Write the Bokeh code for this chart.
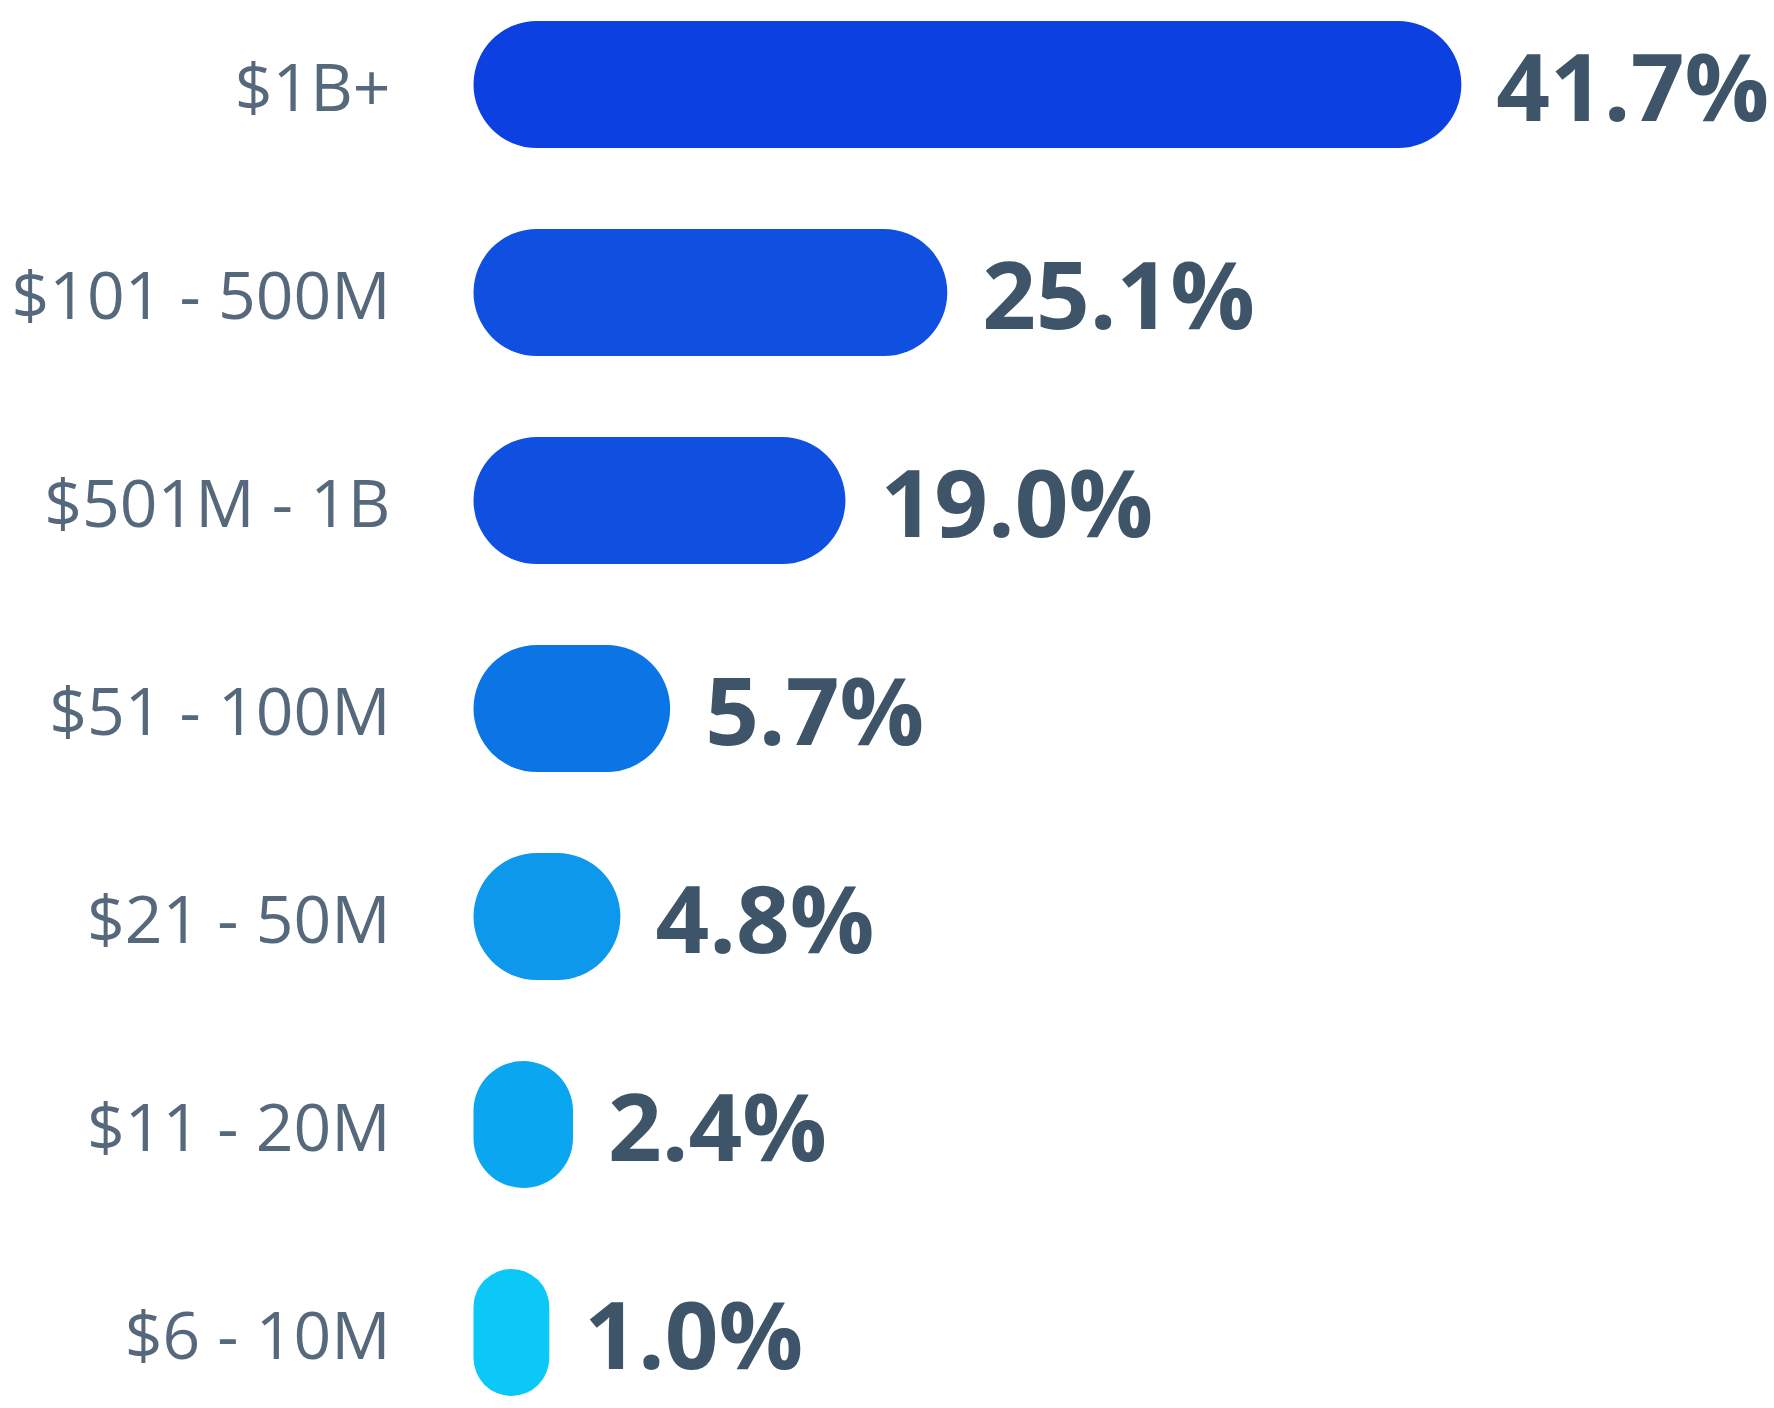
from bokeh.plotting import figure
from bokeh.models import ColumnDataSource, Range1d
from bokeh.core.properties import value
from bokeh.embed import file_html
from bokeh.resources import INLINE

# ---- data ----
categories = ["$1B+", "$101 - 500M", "$501M - 1B", "$51 - 100M",
              "$21 - 50M", "$11 - 20M", "$6 - 10M"]
share_pct = [41.7, 25.1, 19.0, 5.7, 4.8, 2.4, 1.0]          # printed values
bar_len_pct = [41.7, 20.0, 15.7, 8.3, 6.2, 4.2, 3.2]        # bar lengths as drawn
bar_colors = ["#0d40e0", "#1050e0", "#1050e1", "#0b75e6",
              "#0d98ec", "#0aa6f0", "#0bc8f7"]
value_labels = [f"{v:.1f}%" for v in share_pct]

# ---- layout ----
W, H = 1774, 1400
px_per_unit = 23.69
x0_px = 473
row_px = 208.0
first_row_px = 84.0

rows = list(range(len(categories)))
src = ColumnDataSource(dict(y=rows, cat=categories, share=share_pct,
                            bar=bar_len_pct, color=bar_colors, lab=value_labels))

x_start = -x0_px / px_per_unit
x_end = (W - x0_px) / px_per_unit
y_top = -first_row_px / row_px
y_bottom = (H - first_row_px) / row_px

p = figure(width=W, height=H, output_backend="svg", toolbar_location=None,
           x_range=Range1d(x_start, x_end), y_range=Range1d(y_bottom, y_top),
           min_border=0, outline_line_color=None, background_fill_color="white",
           border_fill_color="white")
p.axis.visible = False
p.grid.visible = False

p.hbar(y="y", left=0, right="bar", height=127 / row_px, source=src,
       fill_color="color", line_color=None, border_radius=64)

p.text(x=0, y="y", text="cat", source=src, x_offset=-83, y_offset=0,
       text_align="right", text_baseline="alphabetic",
       text_font=value("Open Sans"), text_font_size="66px", text_color="#56697c")

p.text(x="bar", y="y", text="lab", source=src, x_offset=35, y_offset=0,
       text_align="left", text_baseline="alphabetic",
       text_font=value("Open Sans"), text_font_style="bold",
       text_font_size="94px", text_color="#3e5469")

open("out.html", "w").write(file_html(p, INLINE))
